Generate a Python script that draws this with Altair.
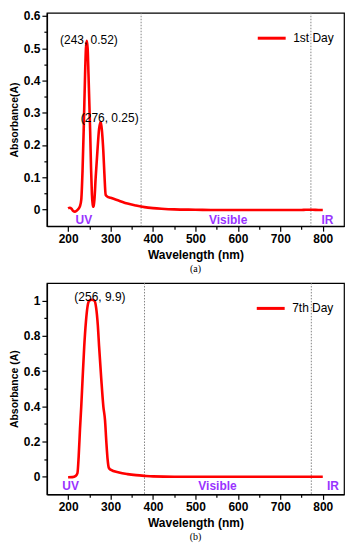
import altair as alt
import pandas as pd

# ---- data (a): 1st Day ----
wl_a = [200, 204, 208, 212, 216, 220, 224, 228, 231, 234, 237, 240, 242, 244, 246, 248, 250, 252,
        254, 256, 258, 260, 262, 265, 269, 273, 277, 280, 283, 285.5, 288.5, 292, 300, 320, 340,
        360, 380, 400, 420, 450, 500, 550, 600, 650, 700, 750, 760, 775, 790, 800]
abs_a = [0.003, 0.005, 0.002, -0.005, -0.007, -0.004, 0.001, 0.01, 0.03, 0.12, 0.26, 0.42, 0.50, 0.523,
         0.50, 0.42, 0.33, 0.24, 0.13, 0.05, 0.008, 0.01, 0.03, 0.10, 0.18, 0.25, 0.272, 0.24, 0.18,
         0.11, 0.045, 0.04, 0.036, 0.027, 0.018, 0.012, 0.007, 0.004, 0.002, 0.0, -0.001, -0.002,
         -0.002, -0.002, -0.002, -0.002, -0.001, -0.001, -0.002, -0.002]

# ---- data (b): 7th Day ----
wl_b = [200, 210, 218, 222, 225, 228, 231, 234, 238, 242, 246, 250, 256, 262, 266, 270, 273, 278,
        283, 287, 290, 293, 296, 300, 320, 340, 360, 380, 400, 450, 500, 600, 700, 800]
abs_b = [-0.003, -0.002, 0.005, 0.02, 0.12, 0.27, 0.40, 0.55, 0.74, 0.88, 0.97, 1.0, 1.005, 1.0,
         0.96, 0.86, 0.74, 0.56, 0.40, 0.32, 0.20, 0.10, 0.05, 0.04, 0.024, 0.015, 0.009, 0.005,
         0.002, 0.0, 0.0, 0.0, 0.0, 0.0]

region_names = ["UV", "Visible", "IR"]
region_x_a = [237, 577, 811]
region_y_a = [-0.034, -0.034, -0.034]
region_x_b = [206, 552, 824]
region_y_b = [-0.055, -0.055, -0.055]

divider_a = [372, 772]
divider_b = [380, 773]

peak_text_a = ["(243, 0.52)", "(276, 0.25)"]
peak_x_a = [249, 298]
peak_y_a = [0.525, 0.283]
peak_text_b = ["(256, 9.9)"]
peak_x_b = [275]
peak_y_b = [1.022]

x_major = [200, 300, 400, 500, 600, 700, 800]
x_minor = [250, 350, 450, 550, 650, 750]
y_major_a = [0, 0.1, 0.2, 0.3, 0.4, 0.5, 0.6]
y_minor_a = [0.05, 0.15, 0.25, 0.35, 0.45, 0.55]
y_major_b = [0, 0.2, 0.4, 0.6, 0.8, 1]
y_minor_b = [0.1, 0.3, 0.5, 0.7, 0.9]

FONT = "Liberation Sans"
PURPLE = "#9933ff"
W = 298


def panel(wl, ab, series, ydom, ymaj, ymin, ytitle, dividers, rx, ry, ptxt, px, py, caption, H):
    df = pd.DataFrame({"wl": wl, "abs": ab, "series": [series] * len(wl)})
    xs = alt.Scale(domain=[150, 850], nice=False, zero=False)
    ys = alt.Scale(domain=ydom, nice=False, zero=False)

    rules = alt.Chart(pd.DataFrame({"wl": dividers})).mark_rule(
        color="#777777", strokeDash=[1.5, 1.5], strokeWidth=0.9
    ).encode(x=alt.X("wl:Q", scale=xs, axis=None))

    line = alt.Chart(df).mark_line(strokeWidth=2.6, interpolate="monotone").encode(
        x=alt.X("wl:Q", scale=xs, axis=alt.Axis(values=x_major, title="Wavelength (nm)",
                                                 titleFontSize=12, titlePadding=5, orient="bottom")),
        y=alt.Y("abs:Q", scale=ys, axis=alt.Axis(values=ymaj, format="~g", title=ytitle,
                                                  titleFontSize=10.5, titlePadding=4, orient="left")),
        color=alt.Color("series:N", scale=alt.Scale(domain=[series], range=["#ff0000"]),
                        legend=alt.Legend(title=None, orient="top-right", offset=10,
                                          symbolType="stroke", symbolSize=784,
                                          symbolStrokeWidth=3, labelFontSize=12,
                                          labelFont=FONT, labelOffset=6, padding=0,
                                          labelColor="black")),
    )

    minor = alt.Chart(df).mark_line(strokeOpacity=0).encode(
        x=alt.X("wl:Q", scale=xs, axis=alt.Axis(values=x_minor, labels=False, domain=False,
                                                 tickSize=3, title=None, orient="bottom")),
        y=alt.Y("abs:Q", scale=ys, axis=alt.Axis(values=ymin, labels=False, domain=False,
                                                  tickSize=3, title=None, orient="left")),
    )

    regions = alt.Chart(pd.DataFrame({"x": rx, "y": ry, "t": region_names})).mark_text(
        color=PURPLE, fontWeight="bold", fontSize=12, font=FONT
    ).encode(
        x=alt.X("x:Q", scale=xs, axis=None),
        y=alt.Y("y:Q", scale=ys, axis=None),
        text="t:N",
    )

    peaks = alt.Chart(pd.DataFrame({"x": px, "y": py, "t": ptxt})).mark_text(
        color="black", fontSize=12, font=FONT
    ).encode(
        x=alt.X("x:Q", scale=xs, axis=None),
        y=alt.Y("y:Q", scale=ys, axis=None),
        text="t:N",
    )

    return alt.layer(rules, line, minor, regions, peaks).resolve_axis(
        x="independent", y="independent"
    ).properties(
        width=W, height=H,
        title=alt.TitleParams(caption, orient="bottom", font="Liberation Serif", fontSize=10,
                              fontWeight="normal", offset=4, anchor="middle", color="black"),
    )


pa = panel(wl_a, abs_a, "1st Day", [-0.052, 0.61], y_major_a, y_minor_a, "Absorbance(A)",
           divider_a, region_x_a, region_y_a, peak_text_a, peak_x_a, peak_y_a, "(a)", 214)
pb = panel(wl_b, abs_b, "7th Day", [-0.1, 1.1], y_major_b, y_minor_b, "Absorbance (A)",
           divider_b, region_x_b, region_y_b, peak_text_b, peak_x_b, peak_y_b, "(b)", 212)

chart = alt.vconcat(pa, pb, spacing=6).resolve_scale(color="independent").properties(
    padding=0
).configure_view(
    stroke="black", strokeWidth=1.2
).configure_axis(
    labelFont=FONT, labelFontSize=12, labelFontWeight="bold", labelColor="black",
    titleFont=FONT, titleFontWeight="bold", titleColor="black",
    domainColor="black", domainWidth=1.4, tickColor="black", tickWidth=1.2, tickSize=5,
    labelPadding=2, grid=False
)

chart.save("out.html", embed_options={"renderer": "svg", "actions": False})
